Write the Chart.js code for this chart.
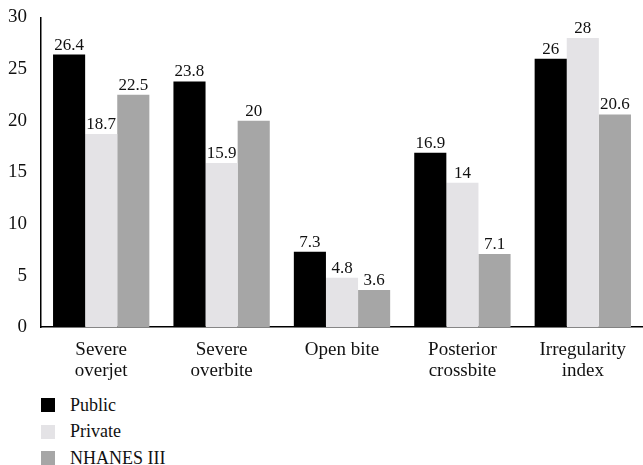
<!DOCTYPE html>
<html lang="en">
<head>
<meta charset="UTF-8">
<title>Malocclusion comparison</title>
<script src="https://cdn.jsdelivr.net/npm/chart.js"></script>
<style>
    body { margin: 0; background: #fff; font-family: "Liberation Serif", serif; }
    #wrap { position: relative; width: 643px; height: 385px; }
    #legend { margin: 7px 0 0 41px; padding: 0; list-style: none; }
    #legend li { display: flex; align-items: center; height: 26.5px; font-size: 18px; color: #111; }
    #legend span { display: inline-block; width: 14px; height: 14px; margin-right: 15px; }
</style>
</head>
<body>
<div id="wrap"><canvas id="chart"></canvas></div>
<ul id="legend"></ul>
<script>
const categories = [["Severe", "overjet"], ["Severe", "overbite"], "Open bite", ["Posterior", "crossbite"], ["Irregularity", "index"]];
const publicValues = [26.4, 23.8, 7.3, 16.9, 26];
const privateValues = [18.7, 15.9, 4.8, 14, 28];
const nhanesValues = [22.5, 20, 3.6, 7.1, 20.6];
const seriesNames = ["Public", "Private", "NHANES III"];
const seriesColors = ["#000000", "#e4e3e6", "#a6a6a6"];

const valueLabels = {
    id: 'valueLabels',
    afterDatasetsDraw(chart) {
        const ctx = chart.ctx;
        ctx.save();
        ctx.font = '17px "Liberation Serif", serif';
        ctx.fillStyle = '#111';
        ctx.textAlign = 'center';
        ctx.textBaseline = 'bottom';
        chart.data.datasets.forEach((ds, i) => {
            chart.getDatasetMeta(i).data.forEach((bar, j) => {
                ctx.fillText(String(ds.data[j]), bar.x, bar.y - 1);
            });
        });
        ctx.restore();
    }
};

const allValues = [publicValues, privateValues, nhanesValues];
const datasets = seriesNames.map((name, i) => ({
    label: name,
    data: allValues[i],
    backgroundColor: seriesColors[i],
    categoryPercentage: 0.8,
    barPercentage: 1.0
}));

new Chart(document.getElementById('chart'), {
    type: 'bar',
    data: { labels: categories, datasets: datasets },
    options: {
        responsive: true,
        maintainAspectRatio: false,
        animation: false,
        layout: { padding: { top: 13, right: 0, left: 0, bottom: 0 } },
        plugins: { legend: { display: false }, tooltip: { enabled: false } },
        scales: {
            x: {
                grid: { display: false },
                border: { color: '#000', width: 1.5 },
                ticks: { color: '#111', font: { family: '"Liberation Serif", serif', size: 19, lineHeight: 1.1 }, maxRotation: 0, padding: 4 }
            },
            y: {
                min: 0, max: 30,
                grid: { display: false },
                border: { color: '#000', width: 1.5 },
                afterFit(scale) { scale.width = 41; },
                ticks: { stepSize: 5, color: '#111', font: { family: '"Liberation Serif", serif', size: 19 }, padding: 6 }
            }
        }
    },
    plugins: [valueLabels]
});

const legend = document.getElementById('legend');
seriesNames.forEach((name, i) => {
    const li = document.createElement('li');
    li.innerHTML = `<span style="background:${seriesColors[i]}"></span>${name}`;
    legend.appendChild(li);
});
</script>
</body>
</html>
